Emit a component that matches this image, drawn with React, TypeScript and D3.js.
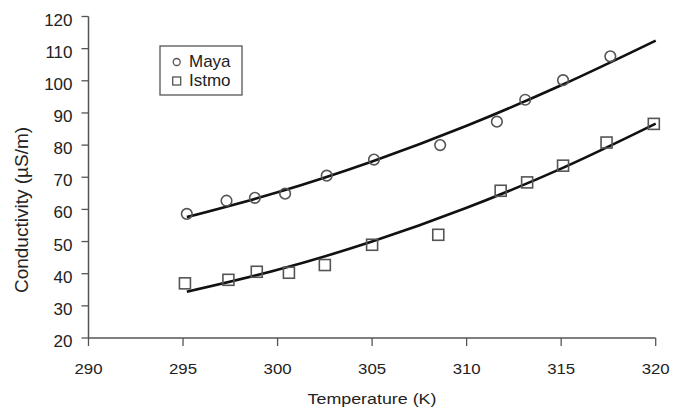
import { useEffect, useRef } from "react";
import * as d3 from "d3";

// measured points
const mayaT = [295.2, 297.3, 298.8, 300.4, 302.6, 305.1, 308.6, 311.6, 313.1, 315.1, 317.6];
const mayaK = [58.6, 62.7, 63.6, 64.9, 70.5, 75.5, 80.0, 87.3, 94.1, 100.2, 107.6];
const istmoT = [295.1, 297.4, 298.9, 300.6, 302.5, 305.0, 308.5, 311.8, 313.2, 315.1, 317.4, 319.9];
const istmoK = [37.0, 38.1, 40.6, 40.3, 42.7, 49.0, 52.1, 65.8, 68.4, 73.6, 80.8, 86.6];

// fitted curves
const fitT = [295.2, 300, 305, 310, 315, 320];
const mayaFit = [57.6, 65.3, 74.9, 86.0, 98.6, 112.5];
const istmoFit = [34.4, 41.2, 50.0, 60.5, 72.7, 86.7];

const xTicks = [290, 295, 300, 305, 310, 315, 320];
const yTicks = [20, 30, 40, 50, 60, 70, 80, 90, 100, 110, 120];

export default function App() {
  const svgRef = useRef<SVGSVGElement>(null);

  useEffect(() => {
    const svg = d3.select(svgRef.current);
    svg.selectAll("*").remove();

    const x = d3.scaleLinear().domain([290, 320]).range([88.5, 655.7]);
    const y = d3.scaleLinear().domain([20, 120]).range([338, 16.5]);
    const axisColor = "#555";
    const textColor = "#222";

    // axes
    svg.append("line")
      .attr("x1", x(290)).attr("x2", x(320))
      .attr("y1", y(20)).attr("y2", y(20))
      .attr("stroke", axisColor).attr("stroke-width", 1.5);
    svg.append("line")
      .attr("x1", x(290)).attr("x2", x(290))
      .attr("y1", y(20)).attr("y2", y(120))
      .attr("stroke", axisColor).attr("stroke-width", 1.5);

    const xt = svg.append("g").selectAll("g").data(xTicks).enter().append("g")
      .attr("transform", d => `translate(${x(d)},${y(20)})`);
    xt.append("line").attr("y1", 0).attr("y2", 8)
      .attr("stroke", axisColor).attr("stroke-width", 1.3);
    xt.append("text")
      .attr("transform", "translate(0,36) scale(1.2,1)")
      .attr("text-anchor", "middle")
      .style("font-family", "Liberation Sans, Arial, sans-serif")
      .style("font-size", "14px")
      .attr("fill", textColor)
      .text(d => d);

    const yt = svg.append("g").selectAll("g").data(yTicks).enter().append("g")
      .attr("transform", d => `translate(${x(290)},${y(d)})`);
    yt.append("line").attr("x1", 0).attr("x2", -7)
      .attr("stroke", axisColor).attr("stroke-width", 1.3);
    yt.append("text")
      .attr("x", -16).attr("y", 9)
      .attr("text-anchor", "end")
      .style("font-family", "Liberation Sans, Arial, sans-serif")
      .style("font-size", "17px")
      .attr("fill", textColor)
      .text(d => d);

    // axis titles
    svg.append("text")
      .attr("transform", `translate(${372},404) scale(1.19,1)`)
      .attr("text-anchor", "middle")
      .style("font-family", "Liberation Sans, Arial, sans-serif")
      .style("font-size", "15px")
      .attr("fill", textColor)
      .text("Temperature (K)");
    svg.append("text")
      .attr("transform", `translate(28,${210}) rotate(-90)`)
      .attr("text-anchor", "middle")
      .style("font-family", "Liberation Sans, Arial, sans-serif")
      .style("font-size", "19px")
      .attr("fill", textColor)
      .text("Conductivity (\u00B5S/m)");

    // fitted curves
    const line = d3.line<number>()
      .x((_, i) => x(fitT[i]))
      .y(d => y(d))
      .curve(d3.curveMonotoneX);
    [mayaFit, istmoFit].forEach(f => {
      svg.append("path")
        .attr("d", line(f))
        .attr("fill", "none")
        .attr("stroke", "#111")
        .attr("stroke-width", 2.6);
    });

    // markers
    svg.append("g").selectAll("circle").data(mayaK).enter().append("circle")
      .attr("cx", (_, i) => x(mayaT[i]))
      .attr("cy", d => y(d))
      .attr("r", 5.3)
      .attr("fill", "none")
      .attr("stroke", "#555")
      .attr("stroke-width", 1.6);
    svg.append("g").selectAll("rect").data(istmoK).enter().append("rect")
      .attr("x", (_, i) => x(istmoT[i]) - 5.5)
      .attr("y", d => y(d) - 5.5)
      .attr("width", 11)
      .attr("height", 11)
      .attr("fill", "none")
      .attr("stroke", "#555")
      .attr("stroke-width", 1.6);

    // legend
    const lg = svg.append("g").attr("transform", "translate(160,46)");
    lg.append("rect")
      .attr("width", 82).attr("height", 49)
      .attr("fill", "white")
      .attr("stroke", "#555").attr("stroke-width", 1.3);
    lg.append("circle").attr("cx", 16.7).attr("cy", 16)
      .attr("r", 3.5).attr("fill", "none").attr("stroke", "#555").attr("stroke-width", 1.3);
    lg.append("rect").attr("x", 12.7).attr("y", 31).attr("width", 8).attr("height", 8)
      .attr("fill", "none").attr("stroke", "#555").attr("stroke-width", 1.3);
    lg.selectAll("text.lbl").data(["Maya", "Istmo"]).enter().append("text")
      .attr("x", 29)
      .attr("y", (_, i) => 20.5 + i * 19.5)
      .style("font-family", "Liberation Sans, Arial, sans-serif")
      .style("font-size", "17px")
      .attr("fill", textColor)
      .text(d => d);
  }, []);

  return (
    <svg
      ref={svgRef}
      width={679}
      height={410}
      style={{ position: "absolute", left: 0, top: 0, background: "white" }}
    />
  );
}
